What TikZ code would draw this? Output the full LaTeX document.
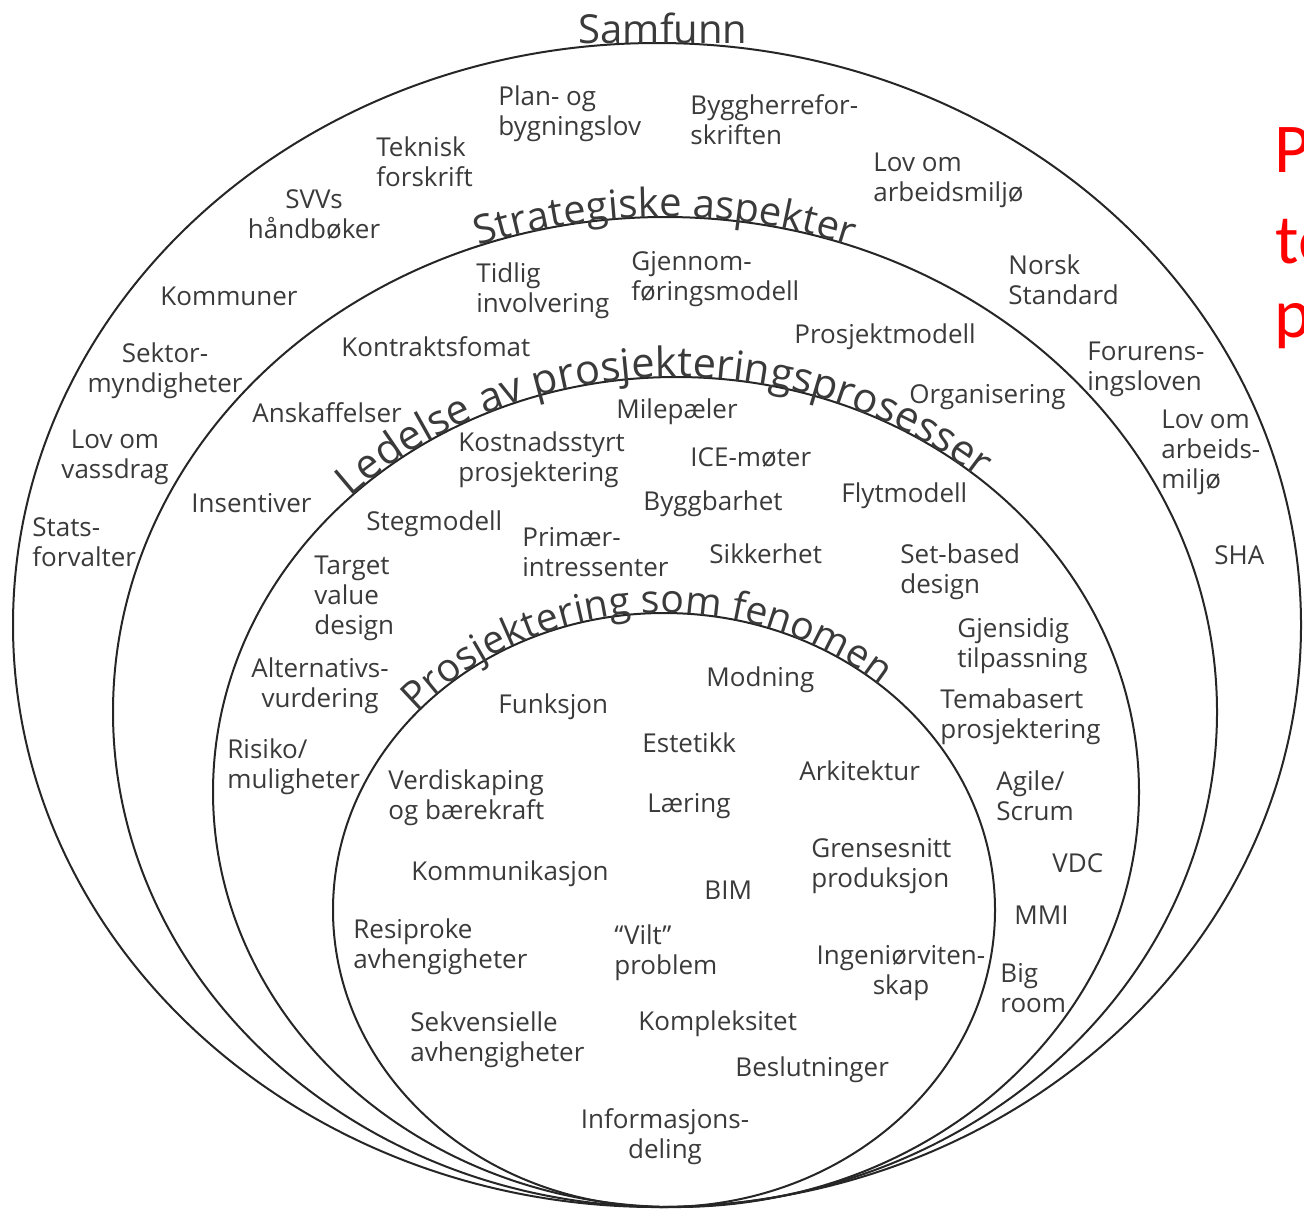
\documentclass[tikz,border=0pt]{standalone}
\usepackage{fontspec}
\setmainfont{Open Sans}
\newfontfamily\redfont{Carlito}
\usetikzlibrary{decorations.text}
\definecolor{inkgray}{HTML}{3A3A3A}
\definecolor{linegray}{HTML}{262626}
\newcommand{\itemfont}{\fontsize{13}{15}\selectfont}
\newcommand{\ringfont}{\fontsize{20}{24}\selectfont}

\begin{document}
\begin{tikzpicture}[x=0.5pt, y=0.5pt,
            ring/.style={draw=linegray, line width=1pt},
            item/.style={font=\itemfont, text=inkgray, inner sep=0pt, align=left, anchor=north west},
            itemc/.style={item, align=center, anchor=north},
            ringlabel/.style={decorate, decoration={text along path, text align=center, text={#1}}},
            slide/.style={font=\redfont\fontsize{35}{42}\selectfont, text=red, inner sep=0pt, anchor=base west}]
            \useasboundingbox (0,0) rectangle (1304,-1211);

            \coordinate (c1) at (657,-625);
            \coordinate (c2) at (665,-712);
            \coordinate (c3) at (676,-792);
            \coordinate (c4) at (664,-910);
            \draw[ring] (c1) ellipse [x radius=322pt, y radius=291pt];
            \draw[ring] (c2) ellipse [x radius=276pt, y radius=247.5pt];
            \draw[ring] (c3) ellipse [x radius=231.5pt, y radius=207.5pt];
            \draw[ring] (c4) ellipse [x radius=165.5pt, y radius=148.5pt];

            \node[font=\ringfont, text=inkgray, inner sep=0pt, anchor=base] (samfunn) at (663,-43) {Samfunn};
            \path[ringlabel={|\ringfont\color{inkgray}|Strategiske aspekter}]
                (c2) ++(150:276pt and 247.5pt) arc[start angle=150, end angle=30, x radius=276pt, y radius=247.5pt];
            \path[ringlabel={|\fontsize{20.8}{24}\selectfont\color{inkgray}|Ledelse av prosjekteringsprosesser}]
                (c3) ++(165:231.5pt and 207.5pt) arc[start angle=165, end angle=19, x radius=231.5pt, y radius=207.5pt];
            \path[ringlabel={|\fontsize{19.6}{24}\selectfont\color{inkgray}|Prosjektering som fenomen}]
                (c4) ++(170:165.5pt and 148.5pt) arc[start angle=170, end angle=18, x radius=165.5pt, y radius=148.5pt];

            \node[item] (plan) at (498,-85) {Plan- og\\bygningslov};
            \node[item] (byggherre) at (690,-94) {Byggherrefor-\\skriften};
            \node[item] (teknisk) at (376,-136) {Teknisk\\forskrift};
            \node[itemc] (svv) at (314,-189) {SVVs\\håndbøker};
            \node[item] (arbmiljo) at (873,-153) {Lov om\\arbeidsmiljø};
            \node[item] (kommuner) at (160,-287) {Kommuner};
            \node[item] (norsk) at (1008,-254) {Norsk\\Standard};
            \node[itemc] (sektor) at (165,-342) {Sektor-\\myndigheter};
            \node[item] (forurens) at (1087,-342) {Forurens-\\ingsloven};
            \node[itemc] (vassdrag) at (115,-430) {Lov om\\vassdrag};
            \node[item] (arbmiljob) at (1161,-410) {Lov om\\arbeids-\\miljø};
            \node[item] (statsforv) at (32,-517) {Stats-\\forvalter};
            \node[item] (sha) at (1214,-545) {SHA};

            \node[item] (tidlig) at (476,-262) {Tidlig\\involvering};
            \node[item] (gjennomforing) at (631,-251) {Gjennom-\\føringsmodell};
            \node[item] (kontrakt) at (341,-336) {Kontraktsfomat};
            \node[item] (prosjektmodell) at (794,-323) {Prosjektmodell};
            \node[item] (anskaffelser) at (252,-402) {Anskaffelser};
            \node[item] (organisering) at (909,-384) {Organisering};
            \node[item] (insentiver) at (191,-493) {Insentiver};

            \node[item] (milepaeler) at (616,-398) {Milepæler};
            \node[item] (kostnad) at (458,-431) {Kostnadsstyrt\\prosjektering};
            \node[item] (ice) at (690,-447) {ICE-møter};
            \node[item] (byggbarhet) at (643,-490) {Byggbarhet};
            \node[item] (flyt) at (841,-482) {Flytmodell};
            \node[item] (steg) at (366,-510) {Stegmodell};
            \node[item] (primaer) at (522,-527) {Primær-\\intressenter};
            \node[item] (sikkerhet) at (709,-543) {Sikkerhet};
            \node[item] (setbased) at (900,-543) {Set-based\\design};
            \node[item] (target) at (314,-556) {Target\\value\\design};
            \node[item] (gjensidig) at (957,-617) {Gjensidig\\tilpassning};
            \node[itemc] (alternativ) at (320,-657) {Alternativs-\\vurdering};
            \node[item] (temabasert) at (940,-688) {Temabasert\\prosjektering};
            \node[item] (risiko) at (227,-738) {Risiko/\\muligheter};
            \node[item] (agile) at (996,-770) {Agile/\\Scrum};
            \node[item] (vdc) at (1052,-853) {VDC};
            \node[item] (mmi) at (1014,-906) {MMI};
            \node[item] (bigroom) at (1000,-963) {Big\\room};

            \node[item] (funksjon) at (498,-693) {Funksjon};
            \node[item] (modning) at (706,-666) {Modning};
            \node[item] (estetikk) at (642,-732) {Estetikk};
            \node[item] (arkitektur) at (799,-760) {Arkitektur};
            \node[item] (verdiskaping) at (388,-769) {Verdiskaping\\og bærekraft};
            \node[item] (laering) at (647,-793) {Læring};
            \node[item] (grensesnitt) at (811,-838) {Grensesnitt\\produksjon};
            \node[item] (kommunikasjon) at (411,-860) {Kommunikasjon};
            \node[item] (bim) at (704,-881) {BIM};
            \node[item] (resiproke) at (353,-918) {Resiproke\\avhengigheter};
            \node[item] (vilt) at (614,-924) {“Vilt”\\problem};
            \node[itemc] (ingenior) at (901,-945) {Ingeniørviten-\\skap};
            \node[item] (sekvensielle) at (410,-1011) {Sekvensielle\\avhengigheter};
            \node[item] (kompleksitet) at (638,-1010) {Kompleksitet};
            \node[item] (beslutninger) at (735,-1056) {Beslutninger};
            \node[itemc] (informasjon) at (665,-1108) {Informasjons-\\deling};

            \begin{scope}
                \clip (0,0) rectangle (1304,-1211);
                \node[slide] (redp) at (1274,-172) {P};
                \node[slide] (redte) at (1275,-263) {te};
                \node[slide] (redpb) at (1274,-337) {p};
            \end{scope}
        \end{tikzpicture}
\end{document}
